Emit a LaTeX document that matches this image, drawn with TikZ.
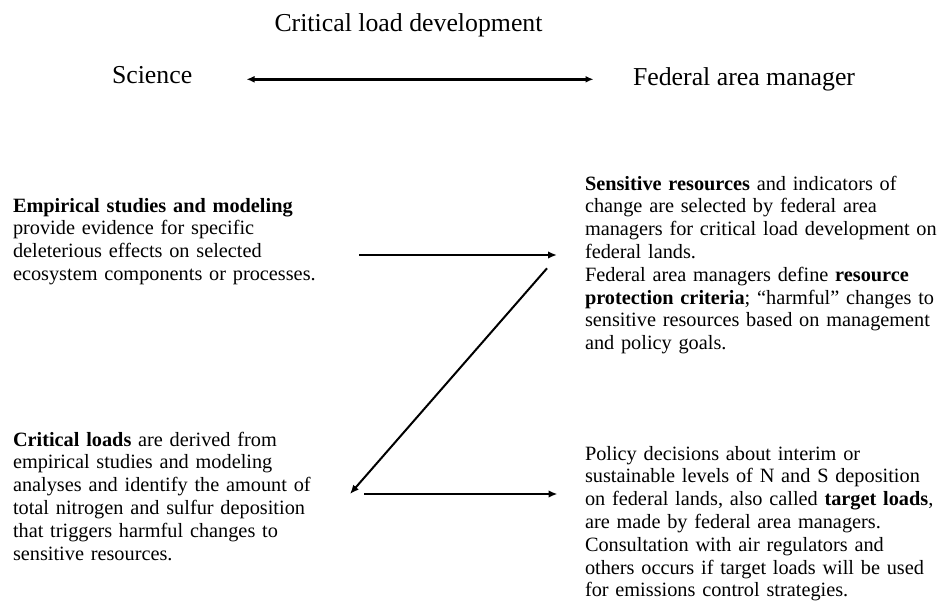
\documentclass[tikz,border=0pt]{standalone}
\usepackage{fontspec}
\setmainfont{Liberation Serif}
\usetikzlibrary{arrows.meta}
\begin{document}
\begin{tikzpicture}[x=1pt,y=-1pt,
  body/.style={anchor=base west, inner sep=0pt, outer sep=0pt, align=left,
    text width=#1, font=\fontsize{20.3}{22.8}\selectfont},
  heading/.style={inner sep=0pt, outer sep=0pt, font=\fontsize{25.8}{30}\selectfont},
  link/.style={line width=2pt, -{Latex[length=9pt,width=7.5pt]}},
  twoway/.style={line width=2.4pt, {Latex[length=8pt,width=7pt]}-{Latex[length=8pt,width=7pt]}},
]
\useasboundingbox (0,0) rectangle (938,608);

% headings
\node[heading, anchor=base] (title) at (408.5,31) {Critical load development};
\node[heading, anchor=base west] (sci) at (112,83.5) {Science};
\node[heading, anchor=base west] (fam) at (633,85) {Federal area manager};

% text blocks
\node[body=340pt] (emp) at (13,212) {\textbf{Empirical studies and modeling}\\
provide evidence for specific\\
deleterious effects on selected\\
ecosystem components or processes.};

\node[body=380pt] (sens) at (585,190) {\textbf{Sensitive resources} and indicators of\\
change are selected by federal area\\
managers for critical load development on\\
federal lands.\\
Federal area managers define \textbf{resource}\\
\textbf{protection criteria}; “harmful” changes to\\
sensitive resources based on management\\
and policy goals.};

\node[body=340pt] (crit) at (13,446) {\textbf{Critical loads} are derived from\\
empirical studies and modeling\\
analyses and identify the amount of\\
total nitrogen and sulfur deposition\\
that triggers harmful changes to\\
sensitive resources.};

\node[body=380pt] (policy) at (585,460) {Policy decisions about interim or\\
sustainable levels of N and S deposition\\
on federal lands, also called \textbf{target loads},\\
are made by federal area managers.\\
Consultation with air regulators and\\
others occurs if target loads will be used\\
for emissions control strategies.};

% connector end points
\coordinate (sciR) at (246.5,79.3);
\coordinate (famL) at (593.5,79.3);
\coordinate (empR) at (359,255);
\coordinate (sensL) at (557,255);
\coordinate (sensB) at (547,268.3);
\coordinate (critR) at (350,494);
\coordinate (critS) at (364,494);
\coordinate (policyL) at (557.5,494);

% connectors
\draw[twoway] (sciR) -- (famL);
\draw[link] (empR) -- (sensL);
\draw[link] (sensB) -- (critR);
\draw[link] (critS) -- (policyL);
\end{tikzpicture}
\end{document}
